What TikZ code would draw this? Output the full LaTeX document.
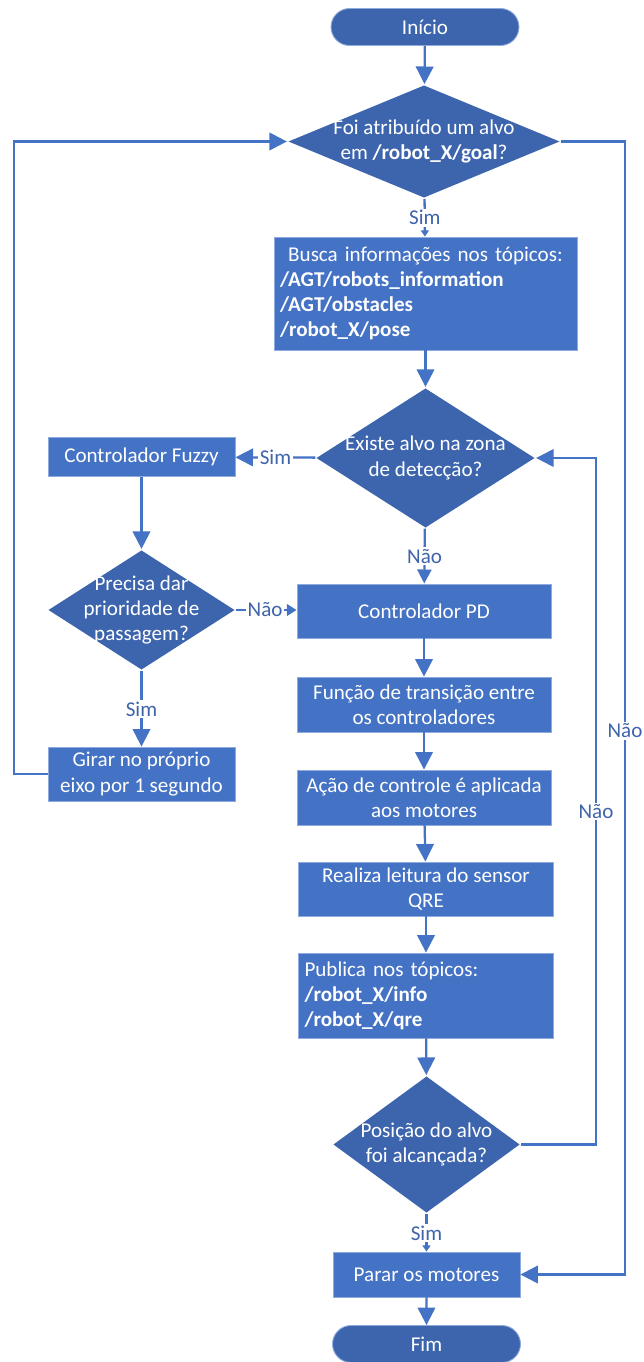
\documentclass[tikz,border=0pt]{standalone}
\usepackage{fontspec}
\setmainfont{Carlito}
\usetikzlibrary{arrows.meta,shapes.geometric,shapes.misc}
\definecolor{boxblue}{HTML}{4472C4}
\definecolor{decblue}{HTML}{3D65AE}
\definecolor{edgeblue}{HTML}{8FAADC}
\definecolor{lineblue}{HTML}{4472C4}
\definecolor{lblblue}{HTML}{3F64AA}
\begin{document}
\begin{tikzpicture}[x=0.02cm, y=-0.02cm, line width=1.3pt,
    every node/.style={font=\fontsize{12}{14.3}\selectfont, text=white},
    box/.style={rectangle, fill=boxblue, draw=edgeblue, line width=0.5pt, align=center, inner sep=0pt},
    terminal/.style={rounded rectangle, fill=decblue, draw=edgeblue, line width=0.5pt, minimum width=3.76cm, minimum height=0.74cm, inner sep=0pt},
    decision/.style={diamond, fill=decblue, draw=none, align=center, inner sep=-6pt},
    lbl/.style={fill=white, text=lblblue, inner sep=1pt},
    line/.style={color=lineblue, -{Triangle[length=10pt,width=10pt]}},
    tinyline/.style={color=lineblue, -{Triangle[length=3.5pt,width=4.5pt]}},
    smallline/.style={color=lineblue, -{Triangle[length=5.5pt,width=6.5pt]}},
    midline/.style={color=lineblue, -{Triangle[length=8pt,width=8pt]}}]
                \useasboundingbox (0, 0) rectangle (643, 1362);
                \node[terminal] at (425, 27) (inicio) {Início};
                \node[decision, aspect=2.41, minimum width=5.44cm, minimum height=2.26cm] at (424, 141.5) (q1) {Foi atribuído um alvo\\em \textbf{/robot\_X/goal}?};
                \node[box, minimum width=6.06cm, minimum height=2.26cm, text width=5.82cm, align=left] at (425.5, 293.5) (busca) {\makebox[\linewidth][c]{Busca informações nos tópicos:}\\\textbf{/AGT/robots\_information}\\\textbf{/AGT/obstacles}\\\textbf{/robot\_X/pose}};
                \node[decision, aspect=1.56, minimum width=4.38cm, minimum height=2.8cm] at (425.5, 458) (q2) {Existe alvo na zona\\de detecção?};
                \node[box, minimum width=3.74cm, minimum height=0.78cm] at (141.5, 457) (fuzzy) {Controlador Fuzzy};
                \node[decision, aspect=1.56, minimum width=3.74cm, minimum height=2.4cm] at (141.5, 610) (q3) {Precisa dar\\prioridade de\\passagem?};
                \node[box, minimum width=3.74cm, minimum height=1.08cm] at (141.5, 774) (girar) {Girar no próprio\\eixo por 1 segundo};
                \node[box, minimum width=5.08cm, minimum height=1.08cm] at (424, 611) (pd) {Controlador PD};
                \node[box, minimum width=5.08cm, minimum height=1.1cm] at (424, 704.5) (funcao) {Função de transição entre\\os controladores};
                \node[box, minimum width=5.08cm, minimum height=1.1cm] at (424, 797.5) (acao) {Ação de controle é aplicada\\aos motores};
                \node[box, minimum width=5.1cm, minimum height=1.08cm] at (426, 889) (realiza) {Realiza leitura do sensor\\QRE};
                \node[box, minimum width=5.1cm, minimum height=1.7cm, text width=4.86cm, align=left] at (426, 995.5) (publica) {Publica nos tópicos:\\\textbf{/robot\_X/info}\\\textbf{/robot\_X/qre}};
                \node[decision, aspect=1.36, minimum width=3.74cm, minimum height=2.74cm] at (426.5, 1144.5) (q4) {Posição do alvo\\foi alcançada?};
                \node[box, minimum width=3.74cm, minimum height=0.9cm] at (426.5, 1274.5) (parar) {Parar os motores};
                \node[terminal] at (426.5, 1344) (fim) {Fim};
                \coordinate (loopL) at (14, 0);
                \coordinate (loopR) at (596, 0);
                \coordinate (outR) at (625, 0);

            \path[line] (inicio) edge (q1);
            \path[tinyline] (q1) edge node[lbl] {Sim} (busca);
            \path[line] (busca) edge (q2);
            \path[line] (q2) edge node[lbl] {Sim} (fuzzy);
            \path[midline] (q2) edge node[lbl] {Não} (pd);
            \path[line] (fuzzy) edge (q3);
            \path[smallline] (q3) edge node[lbl, pos=0.48] {Não} (q3 -| pd.west);
            \path[line] (q3) edge node[lbl] {Sim} (girar);
            \path[line] (pd) edge (funcao);
            \path[line] (funcao) edge (acao);
            \path[line] (acao) edge (realiza);
            \path[line] (realiza) edge (publica);
            \path[line] (publica) edge (q4);
            \path[tinyline] (q4) edge node[lbl] {Sim} (parar);
            \path[line] (parar) edge (fim);
            \draw[line] (girar.west) -- (girar.west -| loopL) |- (q1.west);
            \draw[line] (q4.east) -- (q4.east -| loopR) -- node[lbl, pos=0.485] {Não} (q2.east -| loopR) -- (q2.east);
            \draw[line] (q1.east) -- (q1.east -| outR) -- node[lbl, pos=0.52] {Não} (parar.east -| outR) -- (parar.east);

            \end{tikzpicture}
\end{document}
